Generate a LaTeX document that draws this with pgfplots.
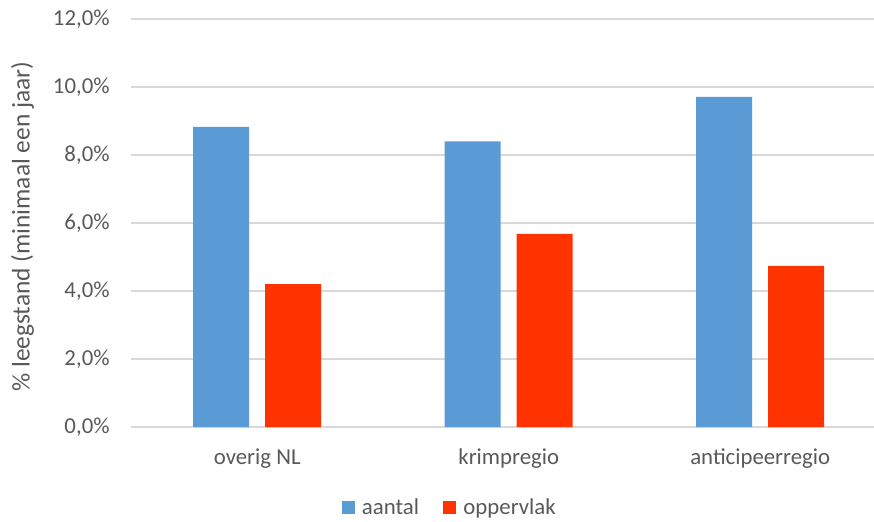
\documentclass[border=0pt]{standalone}
\usepackage{fontspec}
\setmainfont{Carlito}
\usepackage{pgfplots}
\pgfplotsset{compat=1.18}
\definecolor{barblue}{HTML}{5B9BD5}
\definecolor{barred}{HTML}{FF3300}
\definecolor{txtgray}{HTML}{595959}
\definecolor{gridgray}{HTML}{D9D9D9}
\begin{document}
\begin{tikzpicture}
\begin{axis}[
  name=ax,
  scale only axis,
  width=371.25pt, height=204pt,
  xmin=-0.5, xmax=2.4523,
  ymin=0, ymax=12,
  ybar,
  bar width=28pt,
  axis line style={draw=none},
  major tick length=0pt,
  ytick={0,2,4,6,8,10,12},
  yticklabels={{0,0\%},{2,0\%},{4,0\%},{6,0\%},{8,0\%},{10,0\%},{12,0\%}},
  xtick={0,1,2},
  xticklabels={overig NL, krimpregio, anticipeerregio},
  ymajorgrids,
  grid style={draw=gridgray, line width=0.75pt},
  tick label style={font=\fontsize{11.4}{13.7}\selectfont, text=txtgray},
  yticklabel style={anchor=base east, inner sep=0pt, xshift=-10.75pt, yshift=-3.3pt},
  xticklabel style={anchor=base, inner sep=0pt, yshift=-18.5pt},
  ylabel={\% leegstand (minimaal een jaar)},
  ylabel style={at={(axis description cs:-0.1468,0.491)}, anchor=center, font=\fontsize{12.7}{15}\selectfont, text=txtgray},
  legend style={at={(axis description cs:0.4301,-0.1985)}, anchor=center, draw=none, fill=none,
    legend columns=2, font=\fontsize{11.4}{13.7}\selectfont, text=txtgray,
    /tikz/every odd column/.append style={column sep=1.5pt},
    /tikz/every even column/.append style={column sep=10.2pt}},
]
\addplot[fill=barblue, draw=none, bar shift=-18pt,
  legend image code/.code={\fill[barblue] (0pt,-3.25pt) rectangle (6.5pt,3.25pt);}]
  coordinates {(0,8.83) (1,8.40) (2,9.71)};
\addplot[fill=barred, draw=none, bar shift=18pt,
  legend image code/.code={\fill[barred] (0pt,-3.25pt) rectangle (6.5pt,3.25pt);}]
  coordinates {(0,4.20) (1,5.68) (2,4.74)};
\legend{aantal, oppervlak}
\end{axis}
\pgfresetboundingbox
\path[use as bounding box] ([shift={(-65.75pt,-47pt)}]ax.south west) rectangle ([shift={(0pt,9.5pt)}]ax.north east);
\end{tikzpicture}
\end{document}
